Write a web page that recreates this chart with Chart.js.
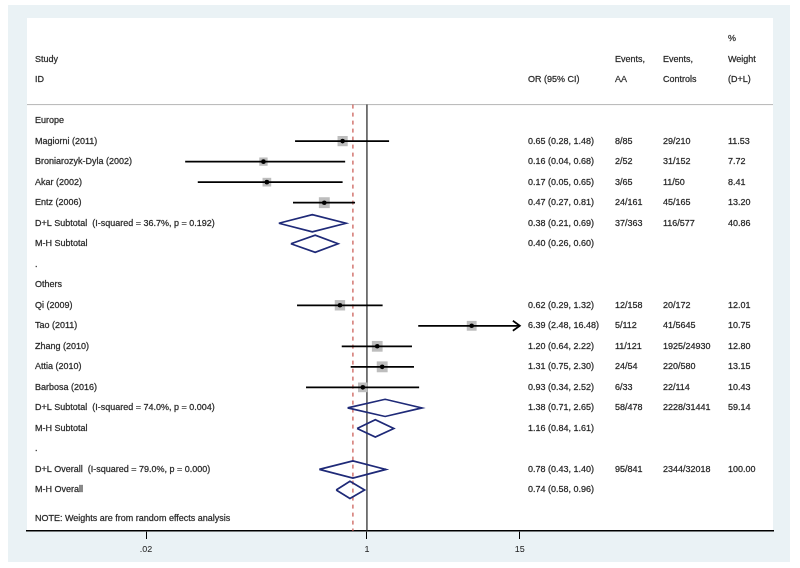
<!DOCTYPE html>
<html>
<head>
<meta charset="utf-8">
<script src="https://cdn.jsdelivr.net/npm/chart.js@4.4.1/dist/chart.umd.min.js"></script>
<style>
  body { margin: 0; background: #fff; }
  canvas { display: block; }
</style>
</head>
<body>
<canvas id="forest" width="800" height="568"></canvas>
<script>
// row labels, top to bottom (row index = position in list)
var rowLabels = [
    "Europe",
    "Magiorni (2011)",
    "Broniarozyk-Dyla (2002)",
    "Akar (2002)",
    "Entz (2006)",
    "D+L Subtotal  (I-squared = 36.7%, p = 0.192)",
    "M-H Subtotal",
    ".",
    "Others",
    "Qi (2009)",
    "Tao (2011)",
    "Zhang (2010)",
    "Attia (2010)",
    "Barbosa (2016)",
    "D+L Subtotal  (I-squared = 74.0%, p = 0.004)",
    "M-H Subtotal",
    ".",
    "D+L Overall  (I-squared = 79.0%, p = 0.000)",
    "M-H Overall"
];
var orText = ["", "0.65 (0.28, 1.48)", "0.16 (0.04, 0.68)", "0.17 (0.05, 0.65)", "0.47 (0.27, 0.81)",
    "0.38 (0.21, 0.69)", "0.40 (0.26, 0.60)", "", "", "0.62 (0.29, 1.32)", "6.39 (2.48, 16.48)",
    "1.20 (0.64, 2.22)", "1.31 (0.75, 2.30)", "0.93 (0.34, 2.52)", "1.38 (0.71, 2.65)",
    "1.16 (0.84, 1.61)", "", "0.78 (0.43, 1.40)", "0.74 (0.58, 0.96)"];
var eventsAA = ["", "8/85", "2/52", "3/65", "24/161", "37/363", "", "", "", "12/158", "5/112",
    "11/121", "24/54", "6/33", "58/478", "", "", "95/841", ""];
var eventsCtl = ["", "29/210", "31/152", "11/50", "45/165", "116/577", "", "", "", "20/172", "41/5645",
    "1925/24930", "220/580", "22/114", "2228/31441", "", "", "2344/32018", ""];
var weightText = ["", "11.53", "7.72", "8.41", "13.20", "40.86", "", "", "", "12.01", "10.75",
    "12.80", "13.15", "10.43", "59.14", "", "", "100.00", ""];
var noteText = "NOTE: Weights are from random effects analysis";

// individual studies
var studyRow = [1, 2, 3, 4, 9, 10, 11, 12, 13];
var studyOR = [0.65, 0.16, 0.17, 0.47, 0.62, 6.39, 1.20, 1.31, 0.93];
var studyLo = [0.28, 0.04, 0.05, 0.27, 0.29, 2.48, 0.64, 0.75, 0.34];
var studyHi = [1.48, 0.68, 0.65, 0.81, 1.32, 16.48, 2.22, 2.30, 2.52];
var studyWeight = [11.53, 7.72, 8.41, 13.20, 12.01, 10.75, 12.80, 13.15, 10.43];

// pooled estimates (diamonds)
var poolRow = [5, 6, 14, 15, 17, 18];
var poolOR = [0.38, 0.40, 1.38, 1.16, 0.78, 0.74];
var poolLo = [0.21, 0.26, 0.71, 0.84, 0.43, 0.58];
var poolHi = [0.69, 0.60, 2.65, 1.61, 1.40, 0.96];

// axis
var tickVals = [0.02, 1, 15];
var tickLabels = [".02", "1", "15"];
var xMin = 0.00243, xMax = 1327;
var overallOR = poolOR[4]; // D+L overall -> dashed line

var ciClip = tickVals[tickVals.length - 1];
var headTop = -0.78; // header separator / start of vertical lines
var diaH = 0.42;

var datasets = [];

// center dots
datasets.push({
    data: studyRow.map((r, i) => ({x: studyOR[i], y: r})),
    pointStyle: "circle", pointRadius: 2.3, backgroundColor: "#000", borderWidth: 0, order: 0
});
// CI lines
studyRow.forEach((r, i) => {
    datasets.push({
        data: [{x: studyLo[i], y: r}, {x: Math.min(studyHi[i], ciClip), y: r}],
        showLine: true, borderColor: "#000", borderWidth: 1.7, pointRadius: 0, order: 1
    });
});
// weight squares
datasets.push({
    data: studyRow.map((r, i) => ({x: studyOR[i], y: r})),
    pointStyle: "rect",
    pointRadius: studyWeight.map(w => 3 * Math.sqrt(w) / Math.SQRT2),
    backgroundColor: "#bdbdbd", borderWidth: 0, order: 2
});
// diamonds
poolRow.forEach((r, i) => {
    datasets.push({
        data: [{x: poolLo[i], y: r}, {x: poolOR[i], y: r - diaH}, {x: poolHi[i], y: r},
               {x: poolOR[i], y: r + diaH}, {x: poolLo[i], y: r}],
        showLine: true, borderColor: "#1f2a78", borderWidth: 1.7, pointRadius: 0, order: 1
    });
});
// no-effect line
datasets.push({
    data: [{x: 1, y: headTop}, {x: 1, y: 20}],
    showLine: true, borderColor: "#222", borderWidth: 1.2, pointRadius: 0, order: 3
});
// overall effect line
datasets.push({
    data: [{x: overallOR, y: headTop}, {x: overallOR, y: 20}],
    showLine: true, borderColor: "#c9544e", borderWidth: 1.2, borderDash: [4, 4], pointRadius: 0, order: 3
});
// header separator
datasets.push({
    data: [{x: xMin, y: headTop}, {x: xMax, y: headTop}],
    showLine: true, borderColor: "#b5b5b5", borderWidth: 1, pointRadius: 0, order: 4
});

var background = {
    id: "background",
    beforeDraw(chart) {
        var ctx = chart.ctx, a = chart.chartArea;
        ctx.save();
        ctx.fillStyle = "#fff";
        ctx.fillRect(0, 0, chart.width, chart.height);
        ctx.fillStyle = "#eaf2f5";
        ctx.fillRect(8, 5, 782, 557);
        ctx.fillStyle = "#fff";
        ctx.fillRect(a.left, a.top, a.right - a.left, a.bottom - a.top);
        ctx.restore();
    }
};

var texts = {
    id: "texts",
    afterDraw(chart) {
        var ctx = chart.ctx, ys = chart.scales.y, xs = chart.scales.x;
        var colLabel = 35, colOR = 528, colAA = 615, colCtl = 663, colW = 728;
        ctx.save();
        ctx.font = "9px 'Liberation Sans', Arial, sans-serif";
        ctx.fillStyle = "#1a1a1a";
        ctx.strokeStyle = "rgba(26,26,26,0.55)";
        ctx.lineWidth = 0.35;
        ctx.textBaseline = "middle";
        ctx.textAlign = "left";
        function put(t, x, row) {
            var py = ys.getPixelForValue(row);
            ctx.fillText(t, x, py);
            ctx.strokeText(t, x, py);
        }
        // header
        put("Study", colLabel, -3);
        put("ID", colLabel, -2);
        put("OR (95% CI)", colOR, -2);
        put("Events,", colAA, -3);
        put("AA", colAA, -2);
        put("Events,", colCtl, -3);
        put("Controls", colCtl, -2);
        put("%", colW, -4);
        put("Weight", colW, -3);
        put("(D+L)", colW, -2);
        rowLabels.forEach((t, i) => {
            put(t, colLabel, i);
            put(orText[i], colOR, i);
            put(eventsAA[i], colAA, i);
            put(eventsCtl[i], colCtl, i);
            put(weightText[i], colW, i);
        });
        put(noteText, colLabel, 19.4);
        // arrow heads for clipped CIs
        ctx.strokeStyle = "#000";
        ctx.lineWidth = 1.7;
        studyRow.forEach((r, i) => {
            if (studyHi[i] > ciClip) {
                var px = xs.getPixelForValue(ciClip), py = ys.getPixelForValue(r);
                ctx.beginPath();
                ctx.moveTo(px - 7, py - 5);
                ctx.lineTo(px, py);
                ctx.lineTo(px - 7, py + 5);
                ctx.stroke();
            }
        });
        ctx.restore();
    }
};

new Chart(document.getElementById("forest").getContext("2d"), {
    type: "scatter",
    data: {datasets: datasets},
    options: {
        responsive: false,
        animation: false,
        layout: {padding: {top: 18, left: 27, right: 27, bottom: 0}},
        plugins: {legend: {display: false}, tooltip: {enabled: false}},
        scales: {
            x: {
                type: "logarithmic",
                min: xMin,
                max: xMax,
                afterBuildTicks: s => { s.ticks = tickVals.map(v => ({value: v})); },
                afterFit: s => { s.height = 37; },
                ticks: {
                    callback: v => tickLabels[tickVals.indexOf(v)],
                    autoSkip: false, maxRotation: 0, padding: 5,
                    color: "#222", font: {size: 9, family: "'Liberation Sans', Arial, sans-serif"}
                },
                grid: {drawOnChartArea: false, drawTicks: true, tickLength: 8, color: "#000", lineWidth: 1},
                border: {display: true, color: "#000", width: 1.5}
            },
            y: {type: "linear", min: -5, max: 20, reverse: true, display: false}
        }
    },
    plugins: [background, texts]
});
</script>
</body>
</html>
